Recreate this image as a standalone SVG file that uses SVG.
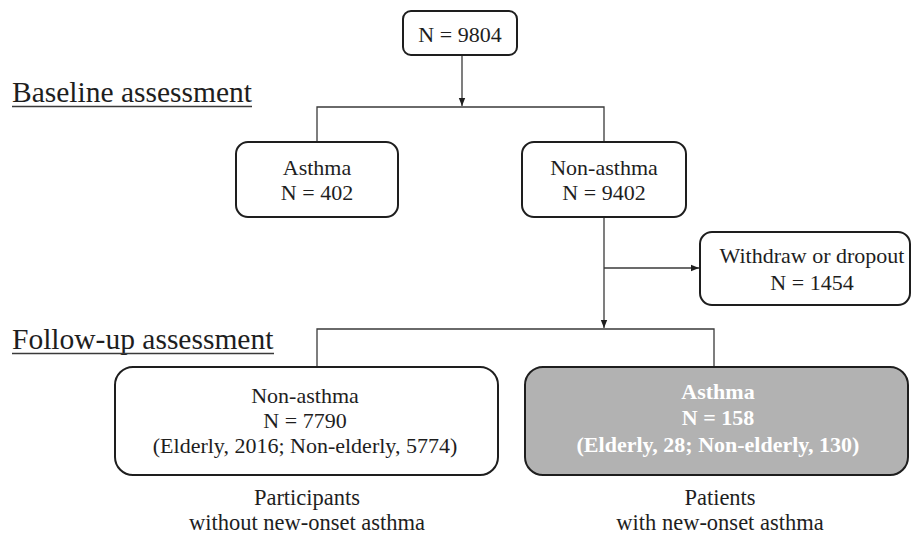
<svg xmlns="http://www.w3.org/2000/svg" width="912" height="540" viewBox="0 0 912 540">
<style>
text{font-family:"Liberation Serif","Times New Roman",serif;fill:#1e1e1e;text-anchor:middle}
.box{fill:#fff;stroke:#1e1e1e;stroke-width:2}
.gbox{fill:#b2b2b2;stroke:#1e1e1e;stroke-width:2}
.t{font-size:22px}
.c{font-size:22.5px}
.h{font-size:29.5px;text-anchor:start}
.w{fill:#fff;font-weight:bold}
.ln{fill:none;stroke:#3a3a3a;stroke-width:1.3}
.ul{stroke:#3a3a3a;stroke-width:1.4}
</style>
<defs>
<marker id="ah" viewBox="0 0 10 10" refX="10" refY="5" markerWidth="8" markerHeight="8" markerUnits="userSpaceOnUse" orient="auto">
<path d="M0,1 L10,5 L0,9 z" fill="#1e1e1e"/>
</marker>
</defs>
<g id="headings">
<text class="h" x="12" y="102">Baseline assessment</text>
<line class="ul" x1="12" y1="106.5" x2="252" y2="106.5"/>
<text class="h" x="12" y="349">Follow-up assessment</text>
<line class="ul" x1="12" y1="353.5" x2="274" y2="353.5"/>
</g>
<g id="connectors">
<line class="ln" x1="462" y1="55" x2="462" y2="106" marker-end="url(#ah)"/>
<polyline class="ln" points="317,142 317,107 604,107 604,142"/>
<line class="ln" x1="604" y1="217" x2="604" y2="328" marker-end="url(#ah)"/>
<line class="ln" x1="604" y1="268" x2="699" y2="268" marker-end="url(#ah)"/>
<polyline class="ln" points="317,367 317,329 714,329 714,367"/>
</g>
<g id="n-total">
<rect class="box" x="403" y="11" width="114" height="44" rx="8"/>
<text class="t" x="460" y="42">N = 9804</text>
</g>
<g id="n-asthma-base">
<rect class="box" x="236" y="142" width="162" height="75" rx="12"/>
<text class="t" x="317" y="175">Asthma</text>
<text class="t" x="317" y="200">N = 402</text>
</g>
<g id="n-nonasthma-base">
<rect class="box" x="522" y="142" width="164" height="75" rx="12"/>
<text class="t" x="604" y="175">Non-asthma</text>
<text class="t" x="604" y="200">N = 9402</text>
</g>
<g id="n-withdraw">
<rect class="box" x="700" y="232" width="210" height="73" rx="12"/>
<text class="t" x="812" y="263">Withdraw or dropout</text>
<text class="t" x="812" y="290">N = 1454</text>
</g>
<g id="n-nonasthma-fu">
<rect class="box" x="115" y="367" width="383" height="108" rx="18"/>
<text class="t" x="305" y="403">Non-asthma</text>
<text class="t" x="305" y="428">N = 7790</text>
<text class="t" x="305" y="453">(Elderly, 2016; Non-elderly, 5774)</text>
</g>
<g id="n-asthma-fu">
<rect class="gbox" x="525" y="367" width="383" height="108" rx="18"/>
<text class="t w" x="718" y="399">Asthma</text>
<text class="t w" x="718" y="425">N = 158</text>
<text class="t w" x="718" y="452">(Elderly, 28; Non-elderly, 130)</text>
</g>
<g id="captions">
<text class="c" x="307" y="505">Participants</text>
<text class="c" x="307" y="530">without new-onset asthma</text>
<text class="c" x="720" y="505">Patients</text>
<text class="c" x="720" y="530">with new-onset asthma</text>
</g>
</svg>
